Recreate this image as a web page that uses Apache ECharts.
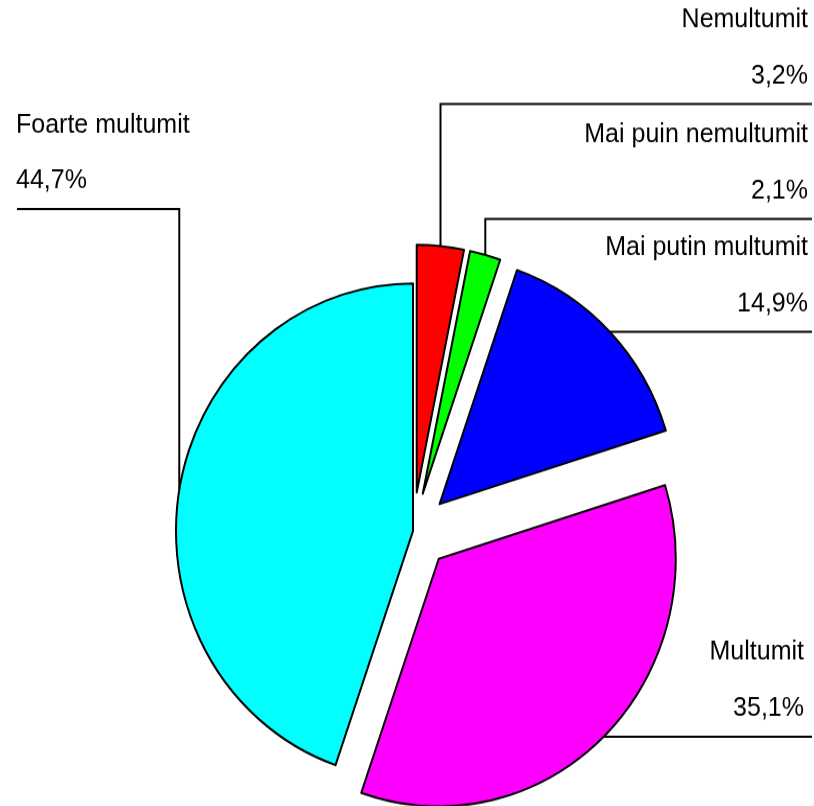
<!DOCTYPE html>
<html><head><meta charset="utf-8">
<script src="https://cdn.jsdelivr.net/npm/echarts@6/dist/echarts.min.js"></script>
<style>
html,body{margin:0;padding:0;background:#fff;overflow:hidden}
#wrap{width:814px;height:806px;overflow:hidden}
#chart{width:814px;height:772px;transform:scaleY(1.045);transform-origin:0 0}
</style>
</head><body><div id="wrap"><div id="chart"></div></div>
<script>
// ---- data ----
const categories = ['Nemultumit', 'Mai puin nemultumit', 'Mai putin multumit', 'Multumit', 'Foarte multumit'];
const percentages = [3.2, 2.1, 14.9, 35.1, 44.7];
const sliceColors = ['#ff0000', '#00ff00', '#0000ff', '#ff00ff', '#00ffff'];
const exploded = [true, true, true, true, false];

// ---- layout (screen px) ----
const SY = 1.045;                 // vertical stretch of the original picture
const CX = 413, CY = 531 / SY, R = 237, EXPLODE = 37;
const FONT = 25, LINE_H = 56 / SY;
const labelSide = ['right', 'right', 'right', 'right', 'left'];
const labelTextX = [808, 808, 808, 804, 16];
const lineEndX = [812, 812, 812, 812, 17];
const lineY = [104, 219, null, null, 209]; // null: horizontal straight from the slice

const fmt = v => v.toFixed(1).replace('.', ',') + '%';
const total = percentages.reduce((a, b) => a + b, 0);
let cum = 0;
const series = percentages.map((v, i) => {
  const mid = (cum + v / 2) / total * 2 * Math.PI;
  cum += v;
  const d = exploded[i] ? EXPLODE : 0;
  const cx = CX + d * Math.sin(mid), cy = CY - d * Math.cos(mid);
  return {
    type: 'pie',
    center: [cx, cy],
    radius: R,
    startAngle: 90,
    clockwise: true,
    avoidLabelOverlap: false,
    silent: true,
    animation: false,
    emphasis: { disabled: true },
    data: categories.map((name, j) => ({
      name: name,
      value: percentages[j],
      itemStyle: j === i
        ? { color: sliceColors[j], borderColor: '#000', borderWidth: 2 }
        : { color: 'rgba(0,0,0,0)', borderWidth: 0 },
      label: { show: j === i },
      labelLine: { show: j === i }
    })),
    label: {
      position: 'outside',
      formatter: p => p.name + '\n' + fmt(p.value),
      fontFamily: 'Liberation Sans, Arial, sans-serif',
      fontSize: FONT,
      color: '#000',
      lineHeight: LINE_H,
      align: labelSide[i]
    },
    labelLine: { show: true, lineStyle: { color: '#000', width: 2 } },
    labelLayout: p => {
      if (p.dataIndex !== i || !p.labelLinePoints) return {};
      const a = p.labelLinePoints[0];
      const ly = lineY[i] == null ? a[1] : lineY[i] / SY;
      return {
        x: labelTextX[i],
        y: ly - LINE_H,
        align: labelSide[i],
        verticalAlign: 'middle',
        labelLinePoints: [[a[0], a[1]], [a[0], ly], [lineEndX[i], ly]]
      };
    }
  };
});

const chart = echarts.init(document.getElementById('chart'), null, { renderer: 'canvas' });
chart.setOption({ backgroundColor: '#fff', animation: false, series: series });
</script>
</body></html>
